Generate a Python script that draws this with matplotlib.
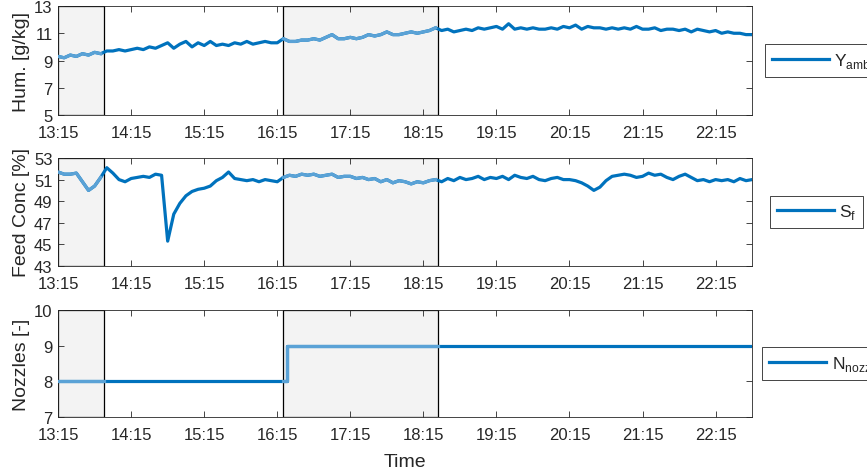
import matplotlib
matplotlib.use("Agg")
import matplotlib.pyplot as plt
import matplotlib.dates as mdates
import pandas as pd

plt.rcParams['font.family'] = ['Liberation Sans', 'DejaVu Sans']

# 5-minute samples from 13:15 to 22:45
humidity = [
    9.3, 9.2, 9.4, 9.3, 9.5, 9.4, 9.6, 9.5, 9.7, 9.7, 9.8, 9.7,
    9.8, 9.9, 9.8, 10.0, 9.9, 10.1, 10.3, 9.9, 10.2, 10.4, 10.0, 10.3,
    10.1, 10.4, 10.1, 10.2, 10.1, 10.3, 10.2, 10.4, 10.2, 10.3, 10.4, 10.3,
    10.3, 10.6, 10.4, 10.4, 10.5, 10.5, 10.6, 10.5, 10.7, 10.9, 10.6, 10.6,
    10.7, 10.6, 10.7, 10.9, 10.8, 10.9, 11.1, 10.9, 10.9, 11.0, 11.1, 11.0,
    11.1, 11.2, 11.4, 11.2, 11.3, 11.1, 11.2, 11.3, 11.2, 11.4, 11.3, 11.4,
    11.5, 11.3, 11.7, 11.3, 11.4, 11.3, 11.4, 11.3, 11.3, 11.4, 11.3, 11.5,
    11.4, 11.6, 11.3, 11.5, 11.4, 11.4, 11.3, 11.4, 11.3, 11.4, 11.3, 11.5,
    11.3, 11.3, 11.4, 11.2, 11.3, 11.3, 11.2, 11.3, 11.1, 11.3, 11.2, 11.1,
    11.2, 11.0, 11.1, 11.0, 11.0, 10.9, 10.9,
]
feed_conc = [
    51.7, 51.5, 51.5, 51.6, 50.8, 50.0, 50.4, 51.2, 52.1, 51.6, 51.0, 50.8,
    51.1, 51.2, 51.3, 51.2, 51.5, 51.4, 45.3, 47.8, 48.8, 49.5, 49.9, 50.1,
    50.2, 50.4, 50.9, 51.2, 51.7, 51.1, 51.0, 50.9, 51.0, 50.8, 51.0, 50.9,
    50.8, 51.2, 51.4, 51.3, 51.5, 51.4, 51.5, 51.3, 51.4, 51.5, 51.2, 51.3,
    51.3, 51.1, 51.2, 51.0, 51.1, 50.8, 51.0, 50.7, 50.9, 50.8, 50.6, 50.8,
    50.7, 50.9, 51.0, 50.8, 51.1, 50.9, 51.2, 51.0, 51.1, 51.3, 51.0, 51.2,
    51.1, 51.3, 51.0, 51.4, 51.2, 51.1, 51.3, 51.0, 50.9, 51.1, 51.2, 51.0,
    51.0, 50.9, 50.7, 50.4, 50.0, 50.3, 50.9, 51.3, 51.4, 51.5, 51.4, 51.2,
    51.3, 51.6, 51.4, 51.5, 51.2, 51.0, 51.3, 51.5, 51.2, 50.9, 51.0, 50.8,
    51.0, 50.9, 51.0, 50.8, 51.1, 50.9, 51.0,
]
times = pd.date_range("2020-01-01 13:15", periods=len(humidity), freq="5min")

nozzle_times = pd.to_datetime(["2020-01-01 13:15", "2020-01-01 16:23", "2020-01-01 22:45"])
nozzles = [8, 9, 9]

shade_windows = [("2020-01-01 13:15", "2020-01-01 13:53"),
                 ("2020-01-01 16:20", "2020-01-01 18:27")]

dark = '#0072BD'
light = '#5AA2D6'
txt = '#262626'

fig = plt.figure(figsize=(8.67, 4.77), dpi=100)
left, width = 0.067, 0.8005
rects = [(0.7568, 0.2285), (0.4403, 0.2264), (0.1237, 0.2243)]
axes = [fig.add_axes([left, b, width, h]) for b, h in rects]

panels = [
    (times, humidity, 'Hum. [g/kg]', (5, 13), [5, 7, 9, 11, 13], r'Y$_{\mathregular{amb}}$', None, 1.006),
    (times, feed_conc, 'Feed Conc [%]', (43, 53), [43, 45, 47, 49, 51, 53], r'S$_{\mathregular{f}}$', None, 1.013),
    (nozzle_times, nozzles, 'Nozzles [-]', (7, 10), [7, 8, 9, 10], r'N$_{\mathregular{nozzle}}$', 'steps-post', 1.002),
]

for ax, (t, y, ylabel, ylim, yticks, leg, ds, lx) in zip(axes, panels):
    s = pd.Series(y, index=t)
    for a, b in shade_windows:
        ax.axvspan(pd.Timestamp(a), pd.Timestamp(b), facecolor='#F3F3F3',
                   edgecolor='black', lw=0.9, zorder=0)
    kw = dict(lw=2.3, drawstyle=ds or 'default')
    line, = ax.plot(s.index, s.values, color=dark, zorder=2, **kw)
    for a, b in shade_windows:
        if ds:
            seg = s.copy()
            seg = seg.reindex(seg.index.union([pd.Timestamp(a), pd.Timestamp(b)])).ffill()
            seg = seg[pd.Timestamp(a):pd.Timestamp(b)]
        else:
            seg = s[pd.Timestamp(a):pd.Timestamp(b)]
        ax.plot(seg.index, seg.values, color=light, zorder=3, **kw)
    ax.set_ylim(*ylim)
    ax.set_yticks(yticks)
    ax.set_xlim(pd.Timestamp("2020-01-01 13:15"), pd.Timestamp("2020-01-01 22:45"))
    ax.set_xticks(pd.date_range("2020-01-01 13:15", "2020-01-01 22:15", freq="1h"))
    ax.xaxis.set_major_formatter(mdates.DateFormatter('%H:%M'))
    ax.tick_params(direction='in', top=True, right=True, length=4, width=0.6,
                   labelsize=12, colors=txt)
    ax.tick_params(axis='x', pad=7)
    ax.tick_params(axis='y', pad=4)
    ax.set_ylabel(ylabel, fontsize=14, color=txt, labelpad=3)
    for sp in ax.spines.values():
        sp.set_color('#262626')
        sp.set_linewidth(0.6)
    lg = ax.legend([line], [leg], loc='center left', bbox_to_anchor=(lx, 0.5),
                   fontsize=12.5, handlelength=3.3, handletextpad=0.3,
                   fancybox=False, framealpha=1, edgecolor='#262626',
                   borderpad=0.4, borderaxespad=0.5)
    lg.get_frame().set_linewidth(0.6)
    for tx in lg.get_texts():
        tx.set_color(txt)

axes[2].set_xlabel('Time', fontsize=14, color=txt, labelpad=8)

fig.savefig('out.png', dpi=100)
